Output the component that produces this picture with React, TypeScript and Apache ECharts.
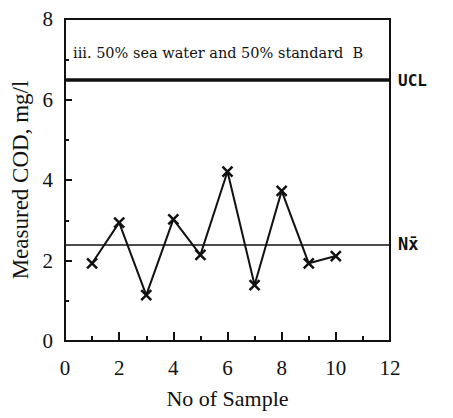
import React, { useEffect, useRef } from "react";
import * as echarts from "echarts";

const samples = [1, 2, 3, 4, 5, 6, 7, 8, 9, 10];
const cod = [1.93, 2.94, 1.14, 3.02, 2.14, 4.21, 1.39, 3.73, 1.93, 2.11];
const uclValue = 6.48;
const meanValue = 2.4;
const titleText = "iii. 50% sea water and 50% standard  B";

const serif = "Liberation Serif";

export default function App() {
  const ref = useRef<HTMLDivElement>(null);
  useEffect(() => {
    if (!ref.current) return;
    const chart = echarts.init(ref.current, null, { renderer: "svg" });
    chart.setOption({
      animation: false,
      backgroundColor: "#fff",
      title: {
        text: titleText,
        left: 68,
        top: 40,
        textStyle: { fontFamily: "DejaVu Serif", fontSize: 14.5, fontWeight: "normal", color: "#111" },
      },
      grid: {
        left: 65,
        right: 63,
        top: 19,
        bottom: 77,
        show: true,
        borderColor: "#111",
        borderWidth: 2,
        backgroundColor: "transparent",
      },
      xAxis: {
        type: "value",
        min: 0,
        max: 12,
        interval: 2,
        name: "No of Sample",
        nameLocation: "middle",
        nameGap: 46,
        nameTextStyle: { fontFamily: serif, fontSize: 22, color: "#111" },
        axisLine: { lineStyle: { color: "#111", width: 2 } },
        axisTick: { inside: true, length: 9, lineStyle: { color: "#111", width: 2 } },
        minorTick: { show: true, splitNumber: 2, length: 5, lineStyle: { color: "#111", width: 2 } },
        axisLabel: { fontFamily: serif, fontSize: 21, color: "#111", margin: 16 },
        splitLine: { show: false },
      },
      yAxis: {
        type: "value",
        min: 0,
        max: 8,
        interval: 2,
        name: "Measured COD, mg/l",
        nameLocation: "middle",
        nameGap: 33,
        nameTextStyle: { fontFamily: serif, fontSize: 23, color: "#111" },
        axisLine: { lineStyle: { color: "#111", width: 2 } },
        axisTick: { inside: true, length: 7, lineStyle: { color: "#111", width: 2 } },
        minorTick: { show: true, splitNumber: 2, length: 4, lineStyle: { color: "#111", width: 2 } },
        axisLabel: { fontFamily: serif, fontSize: 21, color: "#111", margin: 12 },
        splitLine: { show: false },
      },
      series: [
        {
          type: "line",
          data: samples.map((s, i) => [s, cod[i]]),
          symbol: "path://M0,0L10,10M10,0L0,10",
          symbolSize: 10,
          itemStyle: { color: "transparent", borderColor: "#111", borderWidth: 2.5 },
          lineStyle: { color: "#111", width: 2 },
          markLine: {
            silent: true,
            symbol: "none",
            data: [
              {
                yAxis: uclValue,
                lineStyle: { color: "#111", width: 3.5, type: "solid" },
                label: {
                  show: true,
                  position: "end",
                  formatter: "UCL",
                  distance: 8,
                  fontFamily: "DejaVu Sans Mono",
                  fontWeight: "bold",
                  fontSize: 16,
                  color: "#111",
                },
              },
              {
                yAxis: meanValue,
                lineStyle: { color: "#111", width: 1.5, type: "solid" },
                label: {
                  show: true,
                  position: "end",
                  formatter: "Nx̄",
                  distance: 8,
                  fontFamily: "DejaVu Sans Mono",
                  fontWeight: "bold",
                  fontSize: 17,
                  color: "#111",
                },
              },
            ],
          },
        },
      ],
    });
    return () => chart.dispose();
  }, []);
  return <div ref={ref} style={{ width: 453, height: 418, position: "absolute", left: 0, top: 0 }} />;
}
